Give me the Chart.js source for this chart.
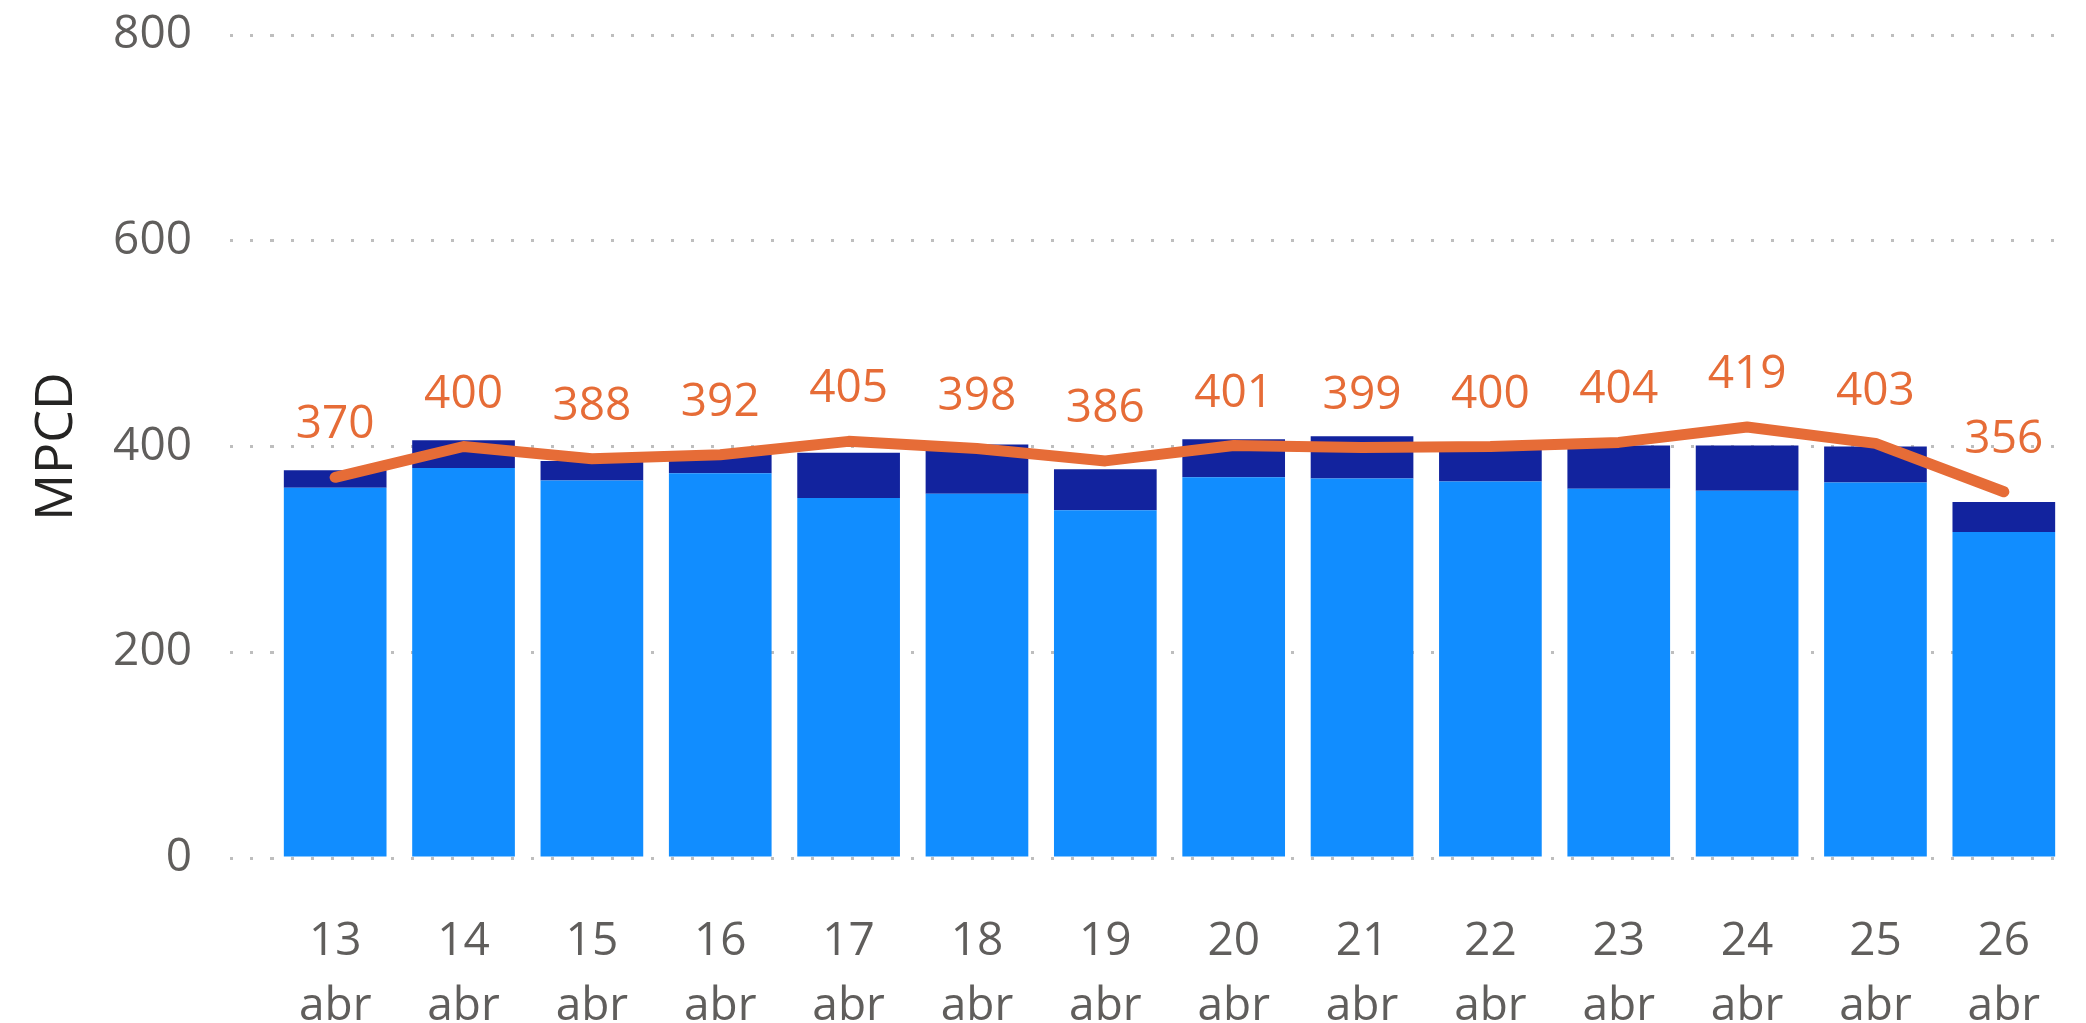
<!DOCTYPE html>
<html>
<head>
<meta charset="utf-8">
<script src="https://cdn.jsdelivr.net/npm/chart.js@4.4.1/dist/chart.umd.min.js"></script>
<style>
    html, body { margin: 0; padding: 0; background: #fff; }
    #wrap { width: 2086px; height: 1023px; }
</style>
</head>
<body>
<div id="wrap"><canvas id="chart"></canvas></div>
<script>
const days = ['13', '14', '15', '16', '17', '18', '19', '20', '21', '22', '23', '24', '25', '26']
const month = 'abr'
const lightPart = [360, 379, 367, 374, 350, 354, 338, 370, 369, 366, 359, 357, 365, 317]
const darkPart = [17, 27, 19, 19, 44, 48, 40, 37, 41, 31, 42, 44, 35, 29]
const lineValues = [370, 400, 388, 392, 405, 398, 386, 401, 399, 400, 404, 419, 403, 356]
const yTicks = [0, 200, 400, 600, 800]

const FONT = '"Open Sans", "Noto Sans", sans-serif'

// draws the orange value labels above the line points
const lineLabels = {
    id: 'lineLabels',
    afterDatasetsDraw(chart) {
        const ctx = chart.ctx
        const meta = chart.getDatasetMeta(2)
        ctx.save()
        ctx.fillStyle = '#E66C37'
        ctx.font = '46px ' + FONT
        ctx.textAlign = 'center'
        ctx.textBaseline = 'middle'
        meta.data.forEach(function(pt, i) {
            ctx.fillText(String(lineValues[i]), pt.x, pt.y - 52)
        })
        ctx.restore()
    }
}

const ctx = document.getElementById('chart').getContext('2d')
const chart = new Chart(ctx, {
    plugins: [lineLabels],
    data: {
        labels: days.map(d => [d, month]),
        datasets: [{
            type: 'bar',
            label: 'base',
            data: lightPart,
            backgroundColor: '#118DFF',
            stack: 'bars',
            order: 2
        }, {
            type: 'bar',
            label: 'extra',
            data: darkPart,
            backgroundColor: '#12239E',
            stack: 'bars',
            order: 2
        }, {
            type: 'line',
            label: 'MPCD',
            data: lineValues,
            borderColor: '#E66C37',
            borderWidth: 11,
            borderCapStyle: 'round',
            borderJoinStyle: 'round',
            pointRadius: 0,
            tension: 0,
            stack: 'line',
            order: 0
        }]
    },
    options: {
        responsive: true,
        maintainAspectRatio: false,
        animation: false,
        layout: { padding: { top: 35, right: 18, left: 0, bottom: 0 } },
        datasets: {
            bar: { barPercentage: 0.8, categoryPercentage: 1.0 }
        },
        scales: {
            x: {
                stacked: true,
                grid: { display: false },
                border: { display: false },
                ticks: {
                    color: '#605E5C',
                    padding: 44,
                    maxRotation: 0,
                    font: { size: 46, family: FONT, lineHeight: 1.4 }
                },
                afterFit: function(scale) { scale.height = 165 }
            },
            y: {
                stacked: true,
                min: 0,
                max: 800,
                afterBuildTicks: function(scale) {
                    scale.ticks = yTicks.map(v => ({ value: v }))
                },
                grid: {
                    color: '#BEBEBE',
                    lineWidth: 3,
                    tickLength: 41,
                    tickColor: '#BEBEBE',
                    tickBorderDash: [3, 17]
                },
                border: { display: false, dash: [3, 17] },
                ticks: {
                    color: '#605E5C',
                    padding: 38,
                    font: { size: 46, family: FONT }
                },
                title: {
                    display: true,
                    text: 'MPCD',
                    color: '#252423',
                    padding: { top: 26, bottom: 0 },
                    font: { size: 52, family: FONT, weight: '500', lineHeight: 1.2 }
                },
                afterFit: function(scale) {
                    scale.width = 271
                    scale.paddingTop = 0
                    scale.paddingBottom = 0
                }
            }
        },
        plugins: {
            legend: { display: false },
            tooltip: { enabled: false }
        }
    }
})
</script>
</body>
</html>
